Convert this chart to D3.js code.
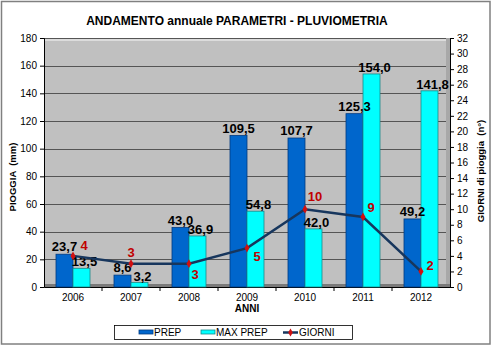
<!DOCTYPE html>
<html><head><meta charset="utf-8">
<script src="https://cdn.jsdelivr.net/npm/d3@7/dist/d3.min.js"></script>
<style>body{margin:0;background:#fff}svg{display:block;font-family:Arial,"Liberation Sans",sans-serif}</style>
</head><body>
<script>
const years = ["2006","2007","2008","2009","2010","2011","2012"];
const prep = [23.7, 8.6, 43.0, 109.5, 107.7, 125.3, 49.2];
const maxPrep = [13.5, 3.2, 36.9, 54.8, 42.0, 154.0, 141.8];
const giorni = [4, 3, 3, 5, 10, 9, 2];
const leftTicks = [0,20,40,60,80,100,120,140,160,180];
const rightTicks = [0,2,4,6,8,10,12,14,16,18,20,22,24,26,28,30,32];

const W = 492, H = 346;
const svg = d3.select("body").append("svg").attr("width", W).attr("height", H);
svg.append("rect").attr("x",1.5).attr("y",1.5).attr("width",488.5).attr("height",342.5)
  .attr("fill","#fff").attr("stroke","#808080").attr("stroke-width",1.5);

const L = 44, R = 450, T = 38, B = 287;
const x = d3.scaleBand().domain(years).range([L, R]).paddingInner(0).paddingOuter(0);
const y = d3.scaleLinear().domain([0,180]).range([B, T]);
const y2 = d3.scaleLinear().domain([0,32]).range([B, T]);
const bw = 17;

// plot area (3D-ish walls)
svg.append("rect").attr("x",L).attr("y",T).attr("width",R-L).attr("height",B-T).attr("fill","#c0c0c0");
svg.append("rect").attr("x",L+1).attr("y",T).attr("width",R-L-4).attr("height",3).attr("fill","#dcdcdc");
svg.append("rect").attr("x",R-4).attr("y",T).attr("width",4).attr("height",B-T).attr("fill","#a8a8a8");
svg.append("rect").attr("x",L).attr("y",B-3).attr("width",R-L).attr("height",3).attr("fill","#7a7a7a");

// gridlines
svg.append("g").selectAll("line").data(leftTicks.filter(d=>d>0)).join("line")
  .attr("x1",L).attr("x2",R-4).attr("y1",d=>Math.round(y(d))+0.5).attr("y2",d=>Math.round(y(d))+0.5)
  .attr("stroke","#555").attr("stroke-width",1);

// axes
const ga = svg.append("g").attr("transform",`translate(${L},0)`)
  .call(d3.axisLeft(y).tickValues(leftTicks).tickSize(4).tickPadding(3).tickFormat(d3.format("d")));
const gr = svg.append("g").attr("transform",`translate(${R},0)`)
  .call(d3.axisRight(y2).tickValues(rightTicks).tickSize(4).tickPadding(3).tickFormat(d3.format("d")));
const gx = svg.append("g").attr("transform",`translate(0,${B})`)
  .call(d3.axisBottom(x).tickSize(0).tickPadding(7));
// category boundary ticks
svg.append("g").selectAll("line").data(years.slice(1)).join("line")
  .attr("x1",d=>x(d)).attr("x2",d=>x(d)).attr("y1",B).attr("y2",B+4).attr("stroke","#000");
[ga,gr,gx].forEach(g=>{
  g.selectAll("text").attr("font-size",10).attr("font-family","Arial, 'Liberation Sans', sans-serif").attr("fill","#000");
  g.select(".domain").attr("stroke","#000");
  g.selectAll(".tick line").attr("stroke","#000");
});

const fmt = v => d3.format(".1f")(v).replace(".", ",");

// bars
const cx = d => x(d) + x.bandwidth()/2;
svg.append("g").selectAll("rect").data(years).join("rect")
  .attr("x",(d)=>cx(d)-bw).attr("width",bw)
  .attr("y",(d,i)=>y(prep[i])).attr("height",(d,i)=>B-y(prep[i]))
  .attr("fill","#0066cc").attr("stroke","#003a80").attr("stroke-width",0.8);
svg.append("g").selectAll("rect").data(years).join("rect")
  .attr("x",(d)=>cx(d)).attr("width",bw)
  .attr("y",(d,i)=>y(maxPrep[i])).attr("height",(d,i)=>B-y(maxPrep[i]))
  .attr("fill","#00ffff").attr("stroke","#1a8a8a").attr("stroke-width",0.8);

// bar labels
svg.append("g").selectAll("text").data(years).join("text")
  .attr("x",d=>cx(d)-bw/2).attr("y",(d,i)=>y(prep[i])-3)
  .attr("text-anchor","middle").attr("font-size",13).attr("font-weight","bold").attr("fill","#000")
  .text((d,i)=>fmt(prep[i]));
svg.append("g").selectAll("text").data(years).join("text")
  .attr("x",d=>cx(d)+bw/2+3).attr("y",(d,i)=>y(maxPrep[i])-2)
  .attr("text-anchor","middle").attr("font-size",13).attr("font-weight","bold").attr("fill","#000")
  .text((d,i)=>fmt(maxPrep[i]));

// line
const line = d3.line().x((d,i)=>cx(years[i])).y(d=>y2(d));
svg.append("path").datum(giorni).attr("d",line).attr("fill","none")
  .attr("stroke","#17365d").attr("stroke-width",2.5);
svg.append("g").selectAll("path").data(giorni).join("path")
  .attr("d",d3.symbol(d3.symbolDiamond,22))
  .attr("transform",(d,i)=>`translate(${cx(years[i])},${y2(d)})`)
  .attr("fill","#d01010");
const offs = [[11,-10],[0,-11],[6,11],[10,8],[10,-13],[8,-9],[9,-6]];
svg.append("g").selectAll("text").data(giorni).join("text")
  .attr("x",(d,i)=>cx(years[i])+offs[i][0]).attr("y",(d,i)=>y2(d)+offs[i][1])
  .attr("dominant-baseline","central").attr("text-anchor","middle")
  .attr("font-size",13).attr("font-weight","bold").attr("fill","#c00000")
  .text(d=>d);

// titles
svg.append("text").attr("x",237).attr("y",25).attr("text-anchor","middle")
  .attr("font-size",12).attr("font-weight","bold").text("ANDAMENTO annuale PARAMETRI - PLUVIOMETRIA");
svg.append("text").attr("transform","translate(16,177) rotate(-90)").attr("text-anchor","middle")
  .attr("font-size",9.5).attr("font-weight","bold").attr("xml:space","preserve").text("PIOGGIA  (mm)");
svg.append("text").attr("transform","translate(484,171) rotate(-90)").attr("text-anchor","middle")
  .attr("font-size",9.5).attr("font-weight","bold").attr("xml:space","preserve").text("GIORNI di pioggia  (n°)");
svg.append("text").attr("x",247).attr("y",312).attr("text-anchor","middle")
  .attr("font-size",10).attr("font-weight","bold").text("ANNI");

// legend
const lg = svg.append("g");
lg.append("rect").attr("x",114.5).attr("y",325.5).attr("width",238).attr("height",14)
  .attr("fill","#fff").attr("stroke","#000").attr("stroke-width",0.8);
lg.append("rect").attr("x",139).attr("y",330).attr("width",14).attr("height",4).attr("fill","#0066cc").attr("stroke","#003a80").attr("stroke-width",0.8);
lg.append("text").attr("x",154).attr("y",336).attr("font-size",10).text("PREP");
lg.append("rect").attr("x",201).attr("y",330).attr("width",14).attr("height",4).attr("fill","#00ffff").attr("stroke","#1a8a8a").attr("stroke-width",0.8);
lg.append("text").attr("x",216).attr("y",336).attr("font-size",10).text("MAX PREP");
lg.append("line").attr("x1",283).attr("x2",298).attr("y1",332.5).attr("y2",332.5).attr("stroke","#17365d").attr("stroke-width",2.5);
lg.append("path").attr("d",d3.symbol(d3.symbolDiamond,18)).attr("transform","translate(290.5,332.5)").attr("fill","#d01010");
lg.append("text").attr("x",299).attr("y",336).attr("font-size",10).text("GIORNI");
</script>
</body></html>
